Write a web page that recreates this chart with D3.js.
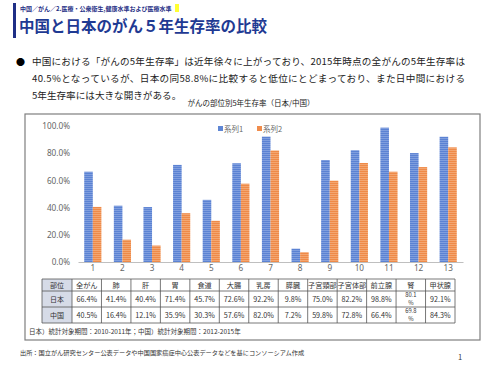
<!DOCTYPE html>
<html>
<head>
<meta charset="utf-8">
<script src="https://cdn.jsdelivr.net/npm/d3@7"></script>
<style>
  body { margin: 0; background: #fff; }
  svg { font-family: "Noto Sans CJK JP", "Noto Sans", sans-serif; }
</style>
</head>
<body>
<div id="chart"></div>
<script>
// data
var categories = ["1","2","3","4","5","6","7","8","9","10","11","12","13"];
var sites = ["全がん","肺","肝","胃","食道","大腸","乳房","膵臓","子宮頸部","子宮体部","前立腺","腎","甲状腺"];
var japan = [66.4, 41.4, 40.4, 71.4, 45.7, 72.6, 92.2, 9.8, 75.0, 82.2, 98.8, 80.1, 92.1];
var china = [40.5, 16.4, 12.1, 35.9, 30.3, 57.6, 82.0, 7.2, 59.8, 72.8, 66.4, 69.8, 84.3];
var seriesNames = ["系列1", "系列2"];
var yTicks = [0, 20, 40, 60, 80, 100];

var W = 500, H = 375;
var svg = d3.select("#chart").append("svg")
    .attr("width", W).attr("height", H);

// stripe patterns for the bars
var defs = svg.append("defs");
function stripes(id, base, light) {
  var p = defs.append("pattern").attr("id", id)
      .attr("patternUnits", "userSpaceOnUse").attr("width", 4).attr("height", 2);
  p.append("rect").attr("width", 4).attr("height", 2).attr("fill", base);
  p.append("rect").attr("width", 4).attr("height", 0.7).attr("fill", light);
}
stripes("blueS", "#5b82d3", "#8eaae3");
stripes("orangeS", "#ef8a48", "#f6b283");
var colors = ["url(#blueS)", "url(#orangeS)"];
var legendColors = ["#5f86d4", "#f08c4c"];

// header
svg.append("rect").attr("x", 13).attr("y", 3).attr("width", 3).attr("height", 35).attr("fill", "#1f2f86");
svg.append("rect").attr("x", 175).attr("y", 4).attr("width", 4).attr("height", 8).attr("fill", "#ffff33");
svg.append("text").attr("x", 20).attr("y", 11)
    .attr("font-size", 6).attr("font-weight", "bold").attr("fill", "#1f2f86")
    .text("中国／がん／2.医療・公衆衛生,健康水準および医療水準");
svg.append("text").attr("x", 19).attr("y", 32)
    .attr("font-size", 15.5).attr("font-weight", "bold").attr("fill", "#1f3a93")
    .text("中国と日本のがん５年生存率の比較");

// bullet text
svg.append("text").attr("x", 16).attr("y", 65).attr("font-size", 9).text("●");
var lines = [
  "中国における「がんの5年生存率」は近年徐々に上がっており、2015年時点の全がんの5年生存率は",
  "40.5%となっているが、日本の同58.8%に比較すると低位にとどまっており、また日中間における",
  "5年生存率には大きな開きがある。"
];
svg.selectAll(".body").data(lines).enter().append("text")
    .attr("x", 32).attr("y", function(d, i) { return 65 + i * 17; })
    .attr("font-size", 9.6).attr("fill", "#222")
    .attr("textLength", function(d, i) { return i < 2 ? 433 : null; })
    .text(function(d) { return d; });

svg.append("text").attr("x", 251).attr("y", 106).attr("text-anchor", "middle")
    .attr("font-size", 7.5).attr("fill", "#222")
    .text("がんの部位別5年生存率（日本/中国）");

// chart frame
svg.append("rect").attr("x", 25).attr("y", 114).attr("width", 455).attr("height", 226)
    .attr("fill", "none").attr("stroke", "#7f7f7f").attr("stroke-width", 1.2);

var x = d3.scaleBand().domain(categories).range([78, 463]).paddingInner(0.42).paddingOuter(0.21);
var x1 = d3.scaleBand().domain([0, 1]).range([0, x.bandwidth()]);
var y = d3.scaleLinear().domain([0, 100]).range([262, 126]);

var g = svg.append("g");
g.append("g").attr("transform", "translate(70,0)")
    .call(d3.axisLeft(y).tickValues(yTicks).tickSize(0).tickPadding(0)
      .tickFormat(function(d) { return d.toFixed(1) + "%"; }))
    .call(function(a) {
      a.select(".domain").remove();
      a.selectAll("text").attr("font-size", 8.2).attr("fill", "#666")
        .attr("font-family", "'Noto Sans', sans-serif");
    });

var groups = g.selectAll(".grp").data(categories).enter().append("g")
    .attr("transform", function(d) { return "translate(" + x(d) + ",0)"; });
[japan, china].forEach(function(vals, s) {
  groups.append("rect")
      .attr("x", x1(s)).attr("width", x1.bandwidth())
      .attr("y", function(d, i) { return y(vals[i]); })
      .attr("height", function(d, i) { return y(0) - y(vals[i]); })
      .attr("fill", colors[s]);
});

g.append("g").attr("transform", "translate(0,262)")
    .call(d3.axisBottom(x).tickSize(0).tickPadding(3))
    .call(function(a) {
      a.select(".domain").attr("stroke", "#bfbfbf");
      a.selectAll("text").attr("font-size", 8.2).attr("fill", "#666")
        .attr("font-family", "'Noto Sans', sans-serif");
    });

// legend
var leg = svg.append("g");
[[218, 0], [257, 1]].forEach(function(p) {
  leg.append("rect").attr("x", p[0]).attr("y", 126).attr("width", 5).attr("height", 5)
      .attr("fill", legendColors[p[1]]);
  leg.append("text").attr("x", p[0] + 6).attr("y", 131.5).attr("font-size", 7.5)
      .attr("fill", "#666").text(seriesNames[p[1]]);
});

// data table under the axis
var tx0 = 42, tx1 = 72, tEnd = 455;
var colW = (tEnd - tx1) / sites.length;
var rowsY = [279, 291, 307, 323];
var tbl = svg.append("g");
tbl.append("rect").attr("x", tx0).attr("y", rowsY[0]).attr("width", tx1 - tx0)
    .attr("height", rowsY[3] - rowsY[0]).attr("fill", "#d6dbe7");
var rowLabels = ["部位", "日本", "中国"];
rowLabels.forEach(function(r, i) {
  tbl.append("text").attr("x", (tx0 + tx1) / 2).attr("y", (rowsY[i] + rowsY[i + 1]) / 2 + 2.5)
      .attr("text-anchor", "middle").attr("font-size", 7).attr("fill", "#333").text(r);
});
function cellText(row, vals) {
  vals.forEach(function(v, i) {
    var cx = tx1 + colW * (i + 0.5);
    var cy = (rowsY[row] + rowsY[row + 1]) / 2;
    var t = typeof v === "number" ? v.toFixed(1) + "%" : v;
    if (row > 0 && sites[i] === "腎") {
      // narrow cell wraps onto two lines, as on the slide
      tbl.append("text").attr("x", cx).attr("y", cy - 1.8).attr("text-anchor", "middle")
          .attr("font-size", 5.8).attr("fill", "#333").text(v.toFixed(1));
      tbl.append("text").attr("x", cx).attr("y", cy + 5.8).attr("text-anchor", "middle")
          .attr("font-size", 5.8).attr("fill", "#333").text("%");
    } else {
      tbl.append("text").attr("x", cx).attr("y", cy + 2.5).attr("text-anchor", "middle")
          .attr("font-size", 7.2).attr("fill", "#333").text(t);
    }
  });
}
cellText(0, sites);
cellText(1, japan);
cellText(2, china);
// grid lines of the table
rowsY.forEach(function(yy) {
  tbl.append("line").attr("x1", tx0).attr("x2", tEnd).attr("y1", yy).attr("y2", yy)
      .attr("stroke", "#555").attr("stroke-width", 0.8);
});
d3.range(sites.length + 1).map(function(i) { return tx1 + colW * i; }).concat([tx0]).forEach(function(xx) {
  tbl.append("line").attr("x1", xx).attr("x2", xx).attr("y1", rowsY[0]).attr("y2", rowsY[3])
      .attr("stroke", "#555").attr("stroke-width", 0.8);
});

svg.append("text").attr("x", 29).attr("y", 334).attr("font-size", 6.5).attr("fill", "#333")
    .text("日本）統計対象期間：2010-2011年；中国）統計対象期間：2012-2015年");

// footer
svg.append("text").attr("x", 20).attr("y", 355).attr("font-size", 6.2).attr("fill", "#333")
    .text("出所：国立がん研究センター公表データや中国国家癌症中心公表データなどを基にコンソーシアム作成");
svg.append("text").attr("x", 458).attr("y", 360).attr("font-size", 7.5).attr("fill", "#333").text("1");
</script>
</body>
</html>
